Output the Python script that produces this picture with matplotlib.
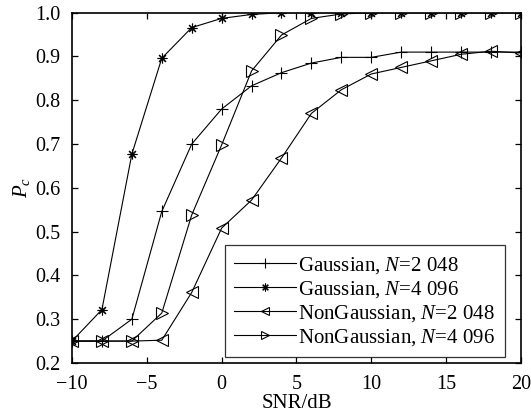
import matplotlib
matplotlib.use('Agg')
import matplotlib.pyplot as plt

plt.rcParams['font.family'] = ['Liberation Serif', 'DejaVu Serif']
plt.rcParams['mathtext.fontset'] = 'custom'
plt.rcParams['mathtext.it'] = 'Liberation Serif:italic'
plt.rcParams['mathtext.rm'] = 'Liberation Serif'

snr = [-10, -8, -6, -4, -2, 0, 2, 4, 6, 8, 10, 12, 14, 16, 18, 20]
gauss_2048 = [0.25, 0.25, 0.30, 0.546, 0.70, 0.78, 0.833, 0.863, 0.885, 0.898,
              0.898, 0.91, 0.91, 0.91, 0.91, 0.91]
gauss_4096 = [0.25, 0.322, 0.677, 0.896, 0.966, 0.987, 0.996, 1.0, 1.0, 1.0,
              1.0, 1.0, 1.0, 1.0, 1.0, 1.0]
nongauss_2048 = [0.25, 0.25, 0.25, 0.252, 0.361, 0.508, 0.572, 0.668, 0.770,
                 0.824, 0.860, 0.875, 0.890, 0.905, 0.912, 0.908]
nongauss_4096 = [0.25, 0.25, 0.25, 0.314, 0.538, 0.698, 0.867, 0.949, 0.987,
                 0.997, 1.0, 1.0, 1.0, 1.0, 1.0, 1.0]
labels = ['Gaussian, $N$=2 048', 'Gaussian, $N$=4 096',
          'NonGaussian, $N$=2 048', 'NonGaussian, $N$=4 096']

fig = plt.figure(figsize=(5.31, 4.19), dpi=100)
ax = fig.add_axes([0.1356, 0.1337, 0.8454, 0.836])

kw = dict(color='black', lw=0.8, mfc='none', mec='black', mew=0.8)
ax.plot(snr, gauss_2048, marker='+', ms=9, label=labels[0], **kw)
ax.plot(snr, gauss_4096, marker=(8, 2, 0), ms=7, label=labels[1], **kw)
ax.plot(snr, nongauss_2048, marker='<', ms=8, label=labels[2], **kw)
ax.plot(snr, nongauss_4096, marker='>', ms=8, label=labels[3], **kw)

ax.set_xlim(-10, 20)
ax.set_ylim(0.2, 1.0)
ax.set_xticks([-10, -5, 0, 5, 10, 15, 20])
ax.set_yticks([0.2, 0.3, 0.4, 0.5, 0.6, 0.7, 0.8, 0.9, 1.0])
ax.set_yticklabels(['0.2', '0.3', '0.4', '0.5', '0.6', '0.7', '0.8', '0.9', '1.0'])
ax.tick_params(direction='in', top=True, right=True, labelsize=14.5, length=4,
               width=0.9, pad=8.5)
for s in ax.spines.values():
    s.set_linewidth(1.2)

ax.set_xlabel('SNR/dB', fontsize=15, labelpad=0)
ax.set_ylabel('$P_c$', fontsize=15, labelpad=2)

leg = ax.legend(loc='lower right', bbox_to_anchor=(0.964, 0.017), fontsize=15,
                frameon=True, fancybox=False, edgecolor='black',
                handlelength=3.0, handletextpad=0.1, borderpad=0.45,
                labelspacing=0.15, borderaxespad=0, markerscale=0.8)
leg.get_frame().set_linewidth(0.9)

fig.savefig('out.png', dpi=100)
